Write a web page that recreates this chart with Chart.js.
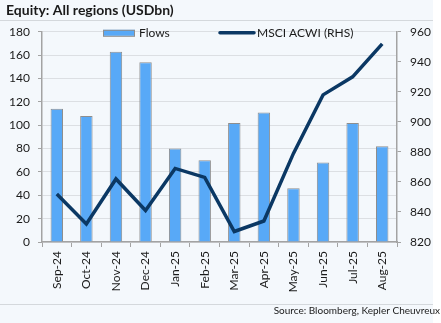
<!DOCTYPE html>
<html>
<head>
<meta charset="utf-8">
<script src="https://cdn.jsdelivr.net/npm/chart.js@4/dist/chart.umd.min.js"></script>
<style>
  html, body { margin: 0; padding: 0; background: #ffffff; }
  #wrap { width: 441px; height: 323px; position: relative; }
</style>
</head>
<body>
<div id="wrap"><canvas id="c" width="441" height="323"></canvas></div>
<script>
const categories = ['Sep-24','Oct-24','Nov-24','Dec-24','Jan-25','Feb-25','Mar-25','Apr-25','May-25','Jun-25','Jul-25','Aug-25'];
const flows = [114, 108, 163, 154, 80, 70, 102, 111, 46, 68, 102, 82];
const msciAcwi = [852, 832, 862, 841, 869, 863, 827, 834, 879, 918, 930, 952];
const leftAxis = { min: 0, max: 180, step: 20 };
const rightAxis = { min: 820, max: 960, step: 20 };

const FONT = 'Lato, "Noto Sans", sans-serif';
const TXT = '#1a1a1a';
const AXIS = '#a3a3a3';

const panelPlugin = {
  id: 'panel',
  beforeDraw(chart) {
    const ctx = chart.ctx;
    ctx.save();
    ctx.fillStyle = '#f4f8fc';
    ctx.fillRect(0, 0, 433, 323);
    ctx.strokeStyle = '#d4d8dc';
    ctx.lineWidth = 1;
    ctx.beginPath();
    ctx.moveTo(0, 20.5); ctx.lineTo(433, 20.5);
    ctx.moveTo(0, 304.5); ctx.lineTo(433, 304.5);
    ctx.stroke();
    ctx.restore();
  }
};

// Legend drawn from the datasets' own labels and colours
const legendPlugin = {
  id: 'inlineLegend',
  beforeDatasetsDraw(chart) {
    const ctx = chart.ctx;
    const a = chart.chartArea;
    const y = a.top + 1;
    const bar = chart.data.datasets.find(d => d.type === 'bar');
    const line = chart.data.datasets.find(d => d.type === 'line');
    ctx.save();
    ctx.font = '12px ' + FONT;
    ctx.textBaseline = 'middle';
    ctx.textAlign = 'left';
    // Flows
    let x = a.left + 61;
    ctx.fillStyle = bar.backgroundColor;
    ctx.fillRect(x, y - 3, 32, 6);
    ctx.strokeStyle = bar.borderColor;
    ctx.lineWidth = 1;
    ctx.strokeRect(x + 0.5, y - 2.5, 31, 6);
    ctx.fillStyle = TXT;
    ctx.fillText(bar.label, x + 36, y);
    // MSCI line
    x = a.left + 178;
    ctx.strokeStyle = line.borderColor;
    ctx.lineWidth = 3.5;
    ctx.lineCap = 'round';
    ctx.beginPath();
    ctx.moveTo(x, y); ctx.lineTo(x + 34, y);
    ctx.stroke();
    ctx.fillStyle = TXT;
    ctx.fillText(line.label, x + 37, y);
    ctx.restore();
  }
};

new Chart(document.getElementById('c'), {
  data: {
    labels: categories,
    datasets: [
      {
        type: 'line',
        label: 'MSCI ACWI (RHS)',
        data: msciAcwi,
        yAxisID: 'y1',
        borderColor: '#0b3864',
        backgroundColor: '#0b3864',
        borderWidth: 3.5,
        pointRadius: 0,
        tension: 0,
        order: 0
      },
      {
        type: 'bar',
        label: 'Flows',
        data: flows,
        yAxisID: 'y',
        backgroundColor: '#58a9f7',
        borderColor: '#8e8e8e',
        borderWidth: 1,
        categoryPercentage: 1,
        barPercentage: 0.42,
        order: 1
      }
    ]
  },
  options: {
    responsive: false,
    animation: false,
    devicePixelRatio: 1,
    layout: { padding: { left: 6, right: 1, top: 0, bottom: 4 } },
    plugins: {
      title: {
        display: true,
        text: 'Equity: All regions (USDbn)',
        align: 'start',
        color: TXT,
        font: { family: FONT, size: 14, weight: 'bold' },
        padding: { top: 2, bottom: 13 }
      },
      subtitle: {
        display: true,
        position: 'bottom',
        text: 'Source: Bloomberg, Kepler Cheuvreux',
        align: 'end',
        color: TXT,
        font: { family: FONT, size: 10 },
        padding: { top: 2, bottom: 2 }
      },
      legend: { display: false },
      tooltip: { enabled: false }
    },
    scales: {
      x: {
        type: 'category',
        offset: true,
        grid: { display: true, drawOnChartArea: false, offset: true, tickLength: 5, tickColor: AXIS, tickWidth: 1 },
        border: { color: AXIS, width: 1.5 },
        ticks: { minRotation: 90, maxRotation: 90, padding: 4, color: TXT, font: { family: FONT, size: 12 } },
        afterFit(s) { s.height = 61; }
      },
      y: {
        position: 'left',
        min: leftAxis.min, max: leftAxis.max,
        grid: { color: '#dcdfe3', lineWidth: 1, tickLength: 4, tickColor: AXIS },
        border: { color: AXIS, width: 1.5 },
        ticks: { stepSize: leftAxis.step, padding: 8, color: TXT, font: { family: FONT, size: 12 } },
        afterFit(s) { s.width = 36; }
      },
      y1: {
        position: 'right',
        min: rightAxis.min, max: rightAxis.max,
        grid: { drawOnChartArea: false, tickLength: 4, tickColor: AXIS },
        border: { color: AXIS, width: 1.5 },
        ticks: { stepSize: rightAxis.step, padding: 9, color: TXT, font: { family: FONT, size: 12 } },
        afterFit(s) { s.width = 43; }
      }
    }
  },
  plugins: [panelPlugin, legendPlugin]
});
</script>
</body>
</html>
